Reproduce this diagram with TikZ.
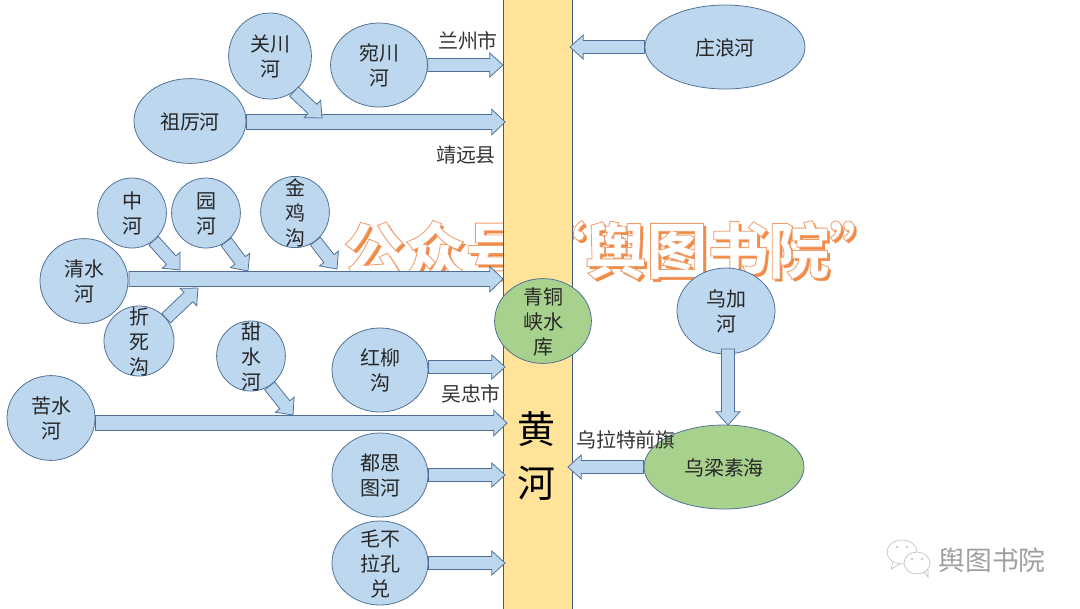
\documentclass[tikz,border=0pt]{standalone}
\usepackage{fontspec}
\usepackage{xcolor}
\usetikzlibrary{calc,shapes.geometric}
\setmainfont{Noto Sans CJK SC}
\definecolor{riverblue}{HTML}{BDD7EE}
\definecolor{edgeblue}{HTML}{4F6F96}
\definecolor{lakegreen}{HTML}{A9D18E}
\definecolor{yellowriver}{HTML}{FFE399}
\definecolor{wmorange}{HTML}{F08A45}
\newcommand{\rvtext}[1]{\raisebox{-.42em}[0pt][0pt]{\makebox[0pt]{\begin{tabular}{@{}c@{}}#1\end{tabular}}}}
\newcommand{\outlined}[1]{\special{pdf:code q 2 Tr .6 w .94 .62 .42 RG}#1\special{pdf:code Q}}
\tikzset{
    rivernode/.style={ellipse, draw=edgeblue, fill=riverblue, line width=.55pt, inner sep=0pt, text=black!85,
        font=\fontsize{14.2}{17.8}\selectfont},
    lakenode/.style={rivernode, fill=lakegreen},
    placelabel/.style={inner sep=0pt, text=black!80, font=\fontsize{14.2}{16}\selectfont},
    watermark/.style={inner sep=0pt, anchor=west, font=\fontsize{43.4}{47}\bfseries\selectfont},
    fatarrow/.style 2 args={draw=edgeblue, fill=riverblue, line width=.55pt, to path={
        ($(\tikztostart)!#1!90:(\tikztotarget)$)
        -- ($(\tikztotarget)!.33cm!(\tikztostart)!#1!-90:(\tikztostart)$)
        -- ($(\tikztotarget)!.33cm!(\tikztostart)!#2!-90:(\tikztostart)$)
        -- (\tikztotarget)
        -- ($(\tikztotarget)!.33cm!(\tikztostart)!#2!90:(\tikztostart)$)
        -- ($(\tikztotarget)!.33cm!(\tikztostart)!#1!90:(\tikztostart)$)
        -- ($(\tikztostart)!#1!-90:(\tikztotarget)$) -- cycle}},
    smallarrow/.style={fatarrow={.16cm}{.3cm}},
    bigarrow/.style={fatarrow={.19cm}{.32cm}},
}
\begin{document}
\begin{tikzpicture}[x=.025cm, y=-.025cm]
    \useasboundingbox (0, 0) rectangle (1080, 608);
    % watermark behind the river
    \node [watermark, text=wmorange] (wmshadow) at (346, 253) {公众号\hspace{-.05cm}“舆图书院”};
    \node [watermark, text=white] (wmtext) at (343, 250) {\outlined{公众号\hspace{-.05cm}“舆图书院”}};

    \node [draw=edgeblue!80!black, fill=yellowriver, line width=.55pt, minimum width=1.725cm, minimum height=15.3cm, inner sep=0pt] (huanghe) at (537.5, 304) {};
    \node [inner sep=0pt, text=black, align=center, font=\fontsize{27}{38}\selectfont] (huanghetext) at (536, 456) {黄\\河};

    \node [rivernode, minimum width=4cm, minimum height=2.1cm] (zhuanglang) at (725, 47) {\rvtext{庄浪河}};
    \node [rivernode, minimum width=2.42cm, minimum height=2.1cm] (wanchuan) at (379, 65) {\rvtext{宛川\\河}};
    \node [rivernode, minimum width=2.07cm, minimum height=2.15cm] (guanchuan) at (270, 56) {\rvtext{关川\\河}};
    \node [rivernode, minimum width=2.8cm, minimum height=2.12cm] (zuli) at (190, 121) {\rvtext{祖厉河}};
    \node [rivernode, minimum width=1.72cm, minimum height=1.75cm] (zhonghe) at (132, 213) {\rvtext{中\\河}};
    \node [rivernode, minimum width=1.72cm, minimum height=1.75cm] (yuanhe) at (206, 213) {\rvtext{园\\河}};
    \node [rivernode, minimum width=1.72cm, minimum height=1.78cm] (jinji) at (295, 212) {\rvtext{金\\鸡\\沟}};
    \node [rivernode, minimum width=2.2cm, minimum height=2.12cm] (qingshui) at (84, 281) {\rvtext{清水\\河}};
    \node [rivernode, minimum width=1.75cm, minimum height=1.75cm] (zhesi) at (139, 341) {\rvtext{折\\死\\沟}};
    \node [rivernode, minimum width=1.72cm, minimum height=1.75cm] (tianshui) at (251, 356) {\rvtext{甜\\水\\河}};
    \node [rivernode, minimum width=2.4cm, minimum height=2.1cm] (hongliu) at (380, 370) {\rvtext{红柳\\沟}};
    \node [rivernode, minimum width=2.2cm, minimum height=2.12cm] (kushui) at (51, 418) {\rvtext{苦水\\河}};
    \node [rivernode, minimum width=2.4cm, minimum height=2.1cm] (dusitu) at (380, 475) {\rvtext{都思\\图河}};
    \node [rivernode, minimum width=2.4cm, minimum height=2.1cm] (maobula) at (380, 563) {\rvtext{毛不\\拉孔\\兑}};
    \node [rivernode, minimum width=2.45cm, minimum height=2.15cm] (wujia) at (726, 311) {\rvtext{乌加\\河}};
    \node [lakenode, minimum width=2.42cm, minimum height=2.12cm] (qingtong) at (543, 321) {\rvtext{青铜\\峡水\\库}};
    \node [lakenode, minimum width=4cm, minimum height=2.1cm] (wuliangsu) at (724, 467) {\rvtext{乌梁素海}};

    \node [placelabel] (lanzhou) at (468, 41) {兰州市};
    \node [placelabel] (jingyuan) at (466, 155) {靖远县};
    \node [placelabel] (wuzhong) at (471, 394) {吴忠市};
    \node [placelabel] (wulate) at (626, 440) {乌拉特前旗};

    % free ends of the arrows
    \coordinate (endzhuang) at (570, 47);
    \coordinate (endwan) at (503, 65);
    \coordinate (endzuli) at (505, 122);
    \coordinate (endguan) at (322, 118);
    \coordinate (startqing) at (129, 279);
    \coordinate (endqing) at (503, 279);
    \coordinate (endzhong) at (180, 270);
    \coordinate (endyuan) at (248, 271);
    \coordinate (endjin) at (337, 269);
    \coordinate (endzhe) at (198, 288);
    \coordinate (endhong) at (505, 367);
    \coordinate (endku) at (507, 423);
    \coordinate (endtian) at (293, 415);
    \coordinate (enddu) at (505, 475);
    \coordinate (endmao) at (505, 563);
    \coordinate (enduliang) at (568, 467);
    \coordinate (startjia) at (728, 349);
    \coordinate (endjia) at (728, 425);

    \draw [smallarrow] (zhuanglang.west) to (endzhuang);
    \draw [smallarrow] (wanchuan.east) to (endwan);
    \draw [bigarrow] (zuli.east |- endzuli) to (endzuli);
    \draw [smallarrow] (guanchuan.-56) to (endguan);
    \draw [bigarrow] (startqing) to (endqing);
    \draw [smallarrow] (zhonghe.-52) to (endzhong);
    \draw [smallarrow] (yuanhe.-55) to (endyuan);
    \draw [smallarrow] (jinji.-55) to (endjin);
    \draw [smallarrow] (zhesi.40) to (endzhe);
    \draw [smallarrow] (hongliu.east |- endhong) to (endhong);
    \draw [bigarrow] (kushui.east |- endku) to (endku);
    \draw [smallarrow] (tianshui.-58) to (endtian);
    \draw [smallarrow] (dusitu.east) to (enddu);
    \draw [smallarrow] (maobula.east) to (endmao);
    \draw [smallarrow] (wuliangsu.west) to (enduliang);
    \draw [smallarrow] (startjia) to (endjia);

    % account mark, lower right
    \draw [gray!55, fill=white] (902, 552) ellipse (15 and 12);
    \draw [gray!55] (893, 562) -- (891, 569) -- (900, 564);
    \draw [gray!55, fill=white] (917, 563) ellipse (13 and 11);
    \draw [gray!55] (924, 572) -- (928, 577) -- (928, 569);
    \fill [gray!55] (897, 547) circle (1.2) (907, 547) circle (1.2) (912, 559) circle (1.2) (922, 559) circle (1.2);
    \node [inner sep=0pt, text=gray!75, font=\fontsize{19}{22}\selectfont] (account) at (992, 560) {舆图书院};
\end{tikzpicture}
\end{document}
